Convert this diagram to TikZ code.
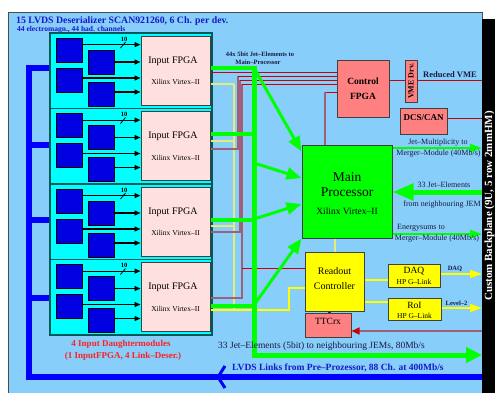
\documentclass[tikz,border=0pt]{standalone}
\usepackage{fontspec}
\setmainfont{Liberation Serif}
\usetikzlibrary{arrows.meta,fit}
\definecolor{bgblue}{HTML}{87CEFA}
\definecolor{modcyan}{HTML}{00FFFF}
\definecolor{modedge}{HTML}{005858}
\definecolor{sqblue}{HTML}{0000E0}
\definecolor{fpgapink}{HTML}{FFE0E0}
\definecolor{salmon}{HTML}{FF8080}
\definecolor{lgreen}{HTML}{00FF00}
\definecolor{lyellow}{HTML}{FFFF00}
\definecolor{paleyellow}{HTML}{E6EC7A}
\definecolor{wred}{HTML}{CC0000}
\definecolor{mauve}{HTML}{A0607A}
\definecolor{busblue}{HTML}{0000FF}
\definecolor{titleblue}{HTML}{1818C8}
\definecolor{txtred}{HTML}{FF2020}
\definecolor{darktxt}{HTML}{1A1A40}
\newcommand\myfs[1]{\fontsize{#1}{#1}\selectfont}
\tikzset{
  lab/.style={inner sep=0pt},
  modbox/.style={inner sep=0pt, draw=modedge, fill=modcyan, line width=1.2pt},
  sqbox/.style={inner sep=0pt, draw=black, fill=sqblue, line width=0.8pt},
  fpgabox/.style={inner sep=0pt, draw=black!75, fill=fpgapink, line width=1pt},
  salbox/.style={inner sep=0pt, draw=black!75, fill=salmon, line width=1pt},
  ylbox/.style={inner sep=0pt, draw=black!75, fill=lyellow, line width=1pt},
  gnbox/.style={inner sep=0pt, draw=black!75, fill=lgreen, line width=1pt},
  marr/.style={line width=1.2pt, -{Triangle[length=6pt,width=5pt]}},
  gline/.style={draw=lgreen, line width=3.5pt},
  gbus/.style={draw=lgreen, line width=5pt},
  garr/.style={draw=lgreen, line width=3pt, -{Triangle[length=15pt,width=12pt]}},
  gthin/.style={draw=lgreen, line width=2pt, -{Triangle[length=12pt,width=8pt]}},
  rline/.style={draw=wred, line width=1pt},
  mline/.style={draw=mauve, line width=1.8pt},
  yline/.style={draw=lyellow, line width=1.3pt},
  pyline/.style={draw=paleyellow, line width=1.5pt},
  yarr/.style={draw=lyellow, line width=1.5pt, -{Triangle[length=12pt,width=8pt]}},
  bbus/.style={draw=busblue, line width=6pt},
}
\begin{document}
\begin{tikzpicture}[x=1pt,y=-1pt]
\useasboundingbox (0,0) rectangle (495,392);
% background
\fill[bgblue] (8,12) rectangle (482,395);
\draw[black!70, line width=0.8pt] (8,395) -- (8,12) -- (482,12) -- (482,19);
\fill[black] (482,19) rectangle (495,395);
\node[lab, rotate=90, text=white, font=\bfseries\myfs{11}] (bp) at (489.5,206) {Custom Backplane (9U, 5 row 2mmHM)};

% titles
\node[lab, anchor=west, text=titleblue, font=\bfseries\myfs{9.8}] (title) at (16,21) {15 LVDS Deserializer SCAN921260, 6 Ch. per dev.};
\node[lab, anchor=west, text=titleblue, font=\bfseries\myfs{7.5}] (subtitle) at (17,29.5) {44 electromagn., 44 had. channels};

% blue input bus
\draw[bbus] (50,68) -- (29,68) -- (29,377) -- (482,377);
\foreach \yy in {145,220,298}{\draw[bbus] (29,\yy) -- (50,\yy);}
\draw[busblue, line width=3pt] (225,366) -- (218,377) -- (225,388);

% daughter modules
\foreach \T/\k in {33/1,108.5/2,184/3,259.5/4}{
  \node[modbox, fit={(50,\T) (212,{\T+75.5})}] (mod\k) {};
  \node[sqbox, fit={(56,{\T+5}) (82,{\T+29})}] (sqA\k) {};
  \node[sqbox, fit={(88,{\T+17}) (114,{\T+41})}] (sqB\k) {};
  \node[sqbox, fit={(56,{\T+35}) (82,{\T+59})}] (sqC\k) {};
  \node[sqbox, fit={(88,{\T+49}) (114,{\T+73})}] (sqD\k) {};
  \node[fpgabox, fit={(141,{\T+3}) (210,{\T+72})}] (fpga\k) {};
  \node[lab, font=\myfs{10}] at (173,{\T+28}) {Input FPGA};
  \node[lab, font=\myfs{7.5}] at (175.5,{\T+49}) {Xilinx Virtex--II};
  \coordinate (a1\k) at ([yshift=-7pt]sqA\k.north east);
  \coordinate (a3\k) at ([yshift=2pt]sqC\k.east);
  \coordinate (a4\k) at ([yshift=2pt]sqD\k.east);
  \draw[marr] (a1\k) -- (a1\k -| fpga\k.west);
  \draw[marr] (sqB\k.east) -- (sqB\k.east -| fpga\k.west);
  \draw[marr] (a3\k) -- (a3\k -| fpga\k.west);
  \draw[marr] (a4\k) -- (a4\k -| fpga\k.west);
  \draw[line width=0.8pt] (120.5,{\T+15}) -- (125.5,{\T+9});
  \node[lab, font=\bfseries\myfs{6.5}] at (124,{\T+6}) {10};
}
\node[lab, text=txtred, font=\bfseries\myfs{9}] (dmtxt1) at (121,344) {4 Input Daughtermodules};
\node[lab, text=txtred, font=\bfseries\myfs{9}] (dmtxt2) at (123,356) {(1 InputFPGA, 4 Link--Deser.)};

% main boxes
\node[gnbox, fit={(302,145) (392,238)}] (mp) {};
\node[lab, font=\myfs{13.5}] at (347,177) {Main};
\node[lab, font=\myfs{13.5}] at (347,192) {Processor};
\node[lab, font=\myfs{9.5}] at (347,211) {Xilinx Virtex--II};

\node[salbox, fit={(337,60) (389,117)}] (cf) {};
\node[lab, font=\bfseries\myfs{9.5}] at (363,81) {Control};
\node[lab, font=\bfseries\myfs{9.5}] at (363,96) {FPGA};

\node[salbox, fit={(405,60) (417,102)}] (vme) {};
\node[lab, rotate=90, font=\bfseries\myfs{8}] at (vme.center) {VME Drv.};

\node[salbox, fit={(400,108) (447,134)}, font=\bfseries\myfs{9}] (dcs) {DCS/CAN};

\node[ylbox, fit={(305,252) (364,311)}] (ro) {};
\node[lab, font=\myfs{10}] at (334.5,271) {Readout};
\node[lab, font=\myfs{10}] at (334.5,286) {Controller};

\node[salbox, fit={(305,313) (351,337)}, font=\myfs{9.5}] (tt) {TTCrx};

\node[ylbox, fit={(388,264) (440,287)}] (daq) {};
\node[lab, font=\myfs{9.5}] at (414,271) {DAQ};
\node[lab, font=\myfs{7.5}] at (414,282) {HP G--Link};

\node[ylbox, fit={(388,298) (441,320)}] (roi) {};
\node[lab, font=\myfs{9.5}] at (414.5,305) {RoI};
\node[lab, font=\myfs{7.5}] at (414.5,316) {HP G--Link};

% yellow connections
\coordinate (yv1) at (234,84);
\coordinate (yv4) at (234,310);
\draw[pyline] (yv1) -- (yv4);
\draw[pyline] (fpga1.east |- yv1) -- (yv1);
\draw[pyline] (fpga2.east |- 0,141) -- (234,141);
\draw[pyline] (fpga3.east |- 0,226) -- (234,226);
\draw[yline] (fpga4.east |- yv4) -- (289,310) -- (289,288) -- (ro.west |- 0,288);
\draw[pyline] (335,0 |- mp.south) -- (335,0 |- ro.north);
\draw[yline] (ro.east |- 0,280) -- (daq.west |- 0,280);
\draw[yline] (ro.east |- 0,302) -- (roi.west |- 0,302);
\coordinate (daqout) at (482,274);
\coordinate (roiout) at (482,308);
\draw[yarr] (daq.east |- daqout) -- (daqout);
\draw[yarr] (roi.east |- roiout) -- (roiout);
\node[lab, text=darktxt, font=\bfseries\myfs{6.5}] at (455,269) {DAQ};
\node[lab, text=darktxt, font=\bfseries\myfs{6.5}] at (456.5,303) {Level--2};

% red / mauve control connections
\draw[rline] (fpga1.east |- 0,72) -- (cf.west |- 0,72);
\draw[mline] (fpga2.east |- 0,149) -- (238,149) -- (238,76);
\draw[mline] (fpga3.east |- 0,232) -- (240,232) -- (240,80);
\draw[mline] (fpga4.east |- 0,298) -- (242,298) -- (242,84);
\draw[rline] (238,76) -- (cf.west |- 0,76);
\draw[rline] (240,80) -- (cf.west |- 0,80);
\draw[rline] (242,84) -- (cf.west |- 0,84);
\draw[rline] (242,268) -- (ro.west |- 0,268);
\draw[rline] (cf.west |- 0,92) -- (325,92);
\draw[mline] (325,92) -- (325,0 |- mp.north);
\draw[rline] (cf.east |- 0,80) -- (vme.west |- 0,80);
\draw[rline] (vme.east |- 0,80) -- (482,80);
\draw[rline] (dcs.east |- 0,118) -- (482,118);
\node[lab, text=darktxt, font=\bfseries\myfs{8.5}] at (450,75) {Reduced VME};
\draw[wred!70!black, line width=3pt] (329,0 |- ro.south) -- (329,0 |- tt.north);
\draw[mline, line width=1.5pt, -{Triangle[length=8pt,width=7pt,color=wred]}] (482,331) -- (tt.east |- 0,331);

% green jet-element bus
\coordinate (gb1) at (254,68);
\coordinate (gb2) at (254,134);
\coordinate (gb3) at (254,220);
\coordinate (gb4) at (254,306);
\coordinate (gbB) at (254,355);
\coordinate (gout) at (482,355);
\draw[gline] (fpga1.east |- gb1) -- (gb1);
\draw[gline] (fpga2.east |- gb2) -- (gb2);
\draw[gline] (fpga3.east |- gb3) -- (gb3);
\draw[gline] (fpga4.east |- gb4) -- (gb4);
\draw[gbus, line join=miter, -{Triangle[length=16pt,width=15pt]}] ([yshift=2pt]gb1) -- (gbB) -- (gout);
\draw[garr] (gb1) -- ([yshift=-7pt]mp.north west);
\draw[garr] (254,163) -- ([yshift=13.5pt]mp.west);
\draw[garr] (254,219) -- ([yshift=-12.5pt]mp.west);
\draw[garr] (254,305) -- (mp.south west);
\node[lab, text=darktxt, font=\bfseries\myfs{6.5}] at (260,54) {44x 5bit Jet--Elements to};
\node[lab, text=darktxt, font=\bfseries\myfs{6.5}] at (258,62) {Main--Processor};

% green right side
\draw[gthin] (mp.east |- 0,148) -- (482,148);
\draw[draw=lgreen, line width=5pt, -{Triangle[length=21pt,width=16pt]}] (482,192) -- (mp.east |- 0,192);
\draw[gthin] (mp.east |- 0,234) -- (482,234);
\node[lab, text=darktxt, font=\myfs{8}] at (438,143) {Jet--Multiplicity to};
\node[lab, text=darktxt, font=\myfs{8}] at (438.5,154) {Merger--Module (40Mb/s)};
\node[lab, text=darktxt, font=\myfs{8}] at (444,185) {33 Jet--Elements};
\node[lab, text=darktxt, font=\myfs{8}] at (442,205) {from neighbouring JEM};
\node[lab, text=darktxt, font=\myfs{8}] at (421,228) {Energysums to};
\node[lab, text=darktxt, font=\myfs{8}] at (437,239) {Merger--Module (40Mb/s)};

% bottom texts
\node[lab, anchor=west, text=darktxt, font=\myfs{9.5}] at (218,346) {33 Jet--Elements (5bit) to neighbouring JEMs, 80Mb/s};
\node[lab, anchor=west, text=titleblue, font=\bfseries\myfs{9.5}] at (232,368) {LVDS Links from Pre--Prozessor, 88 Ch. at 400Mb/s};
\end{tikzpicture}
\end{document}
